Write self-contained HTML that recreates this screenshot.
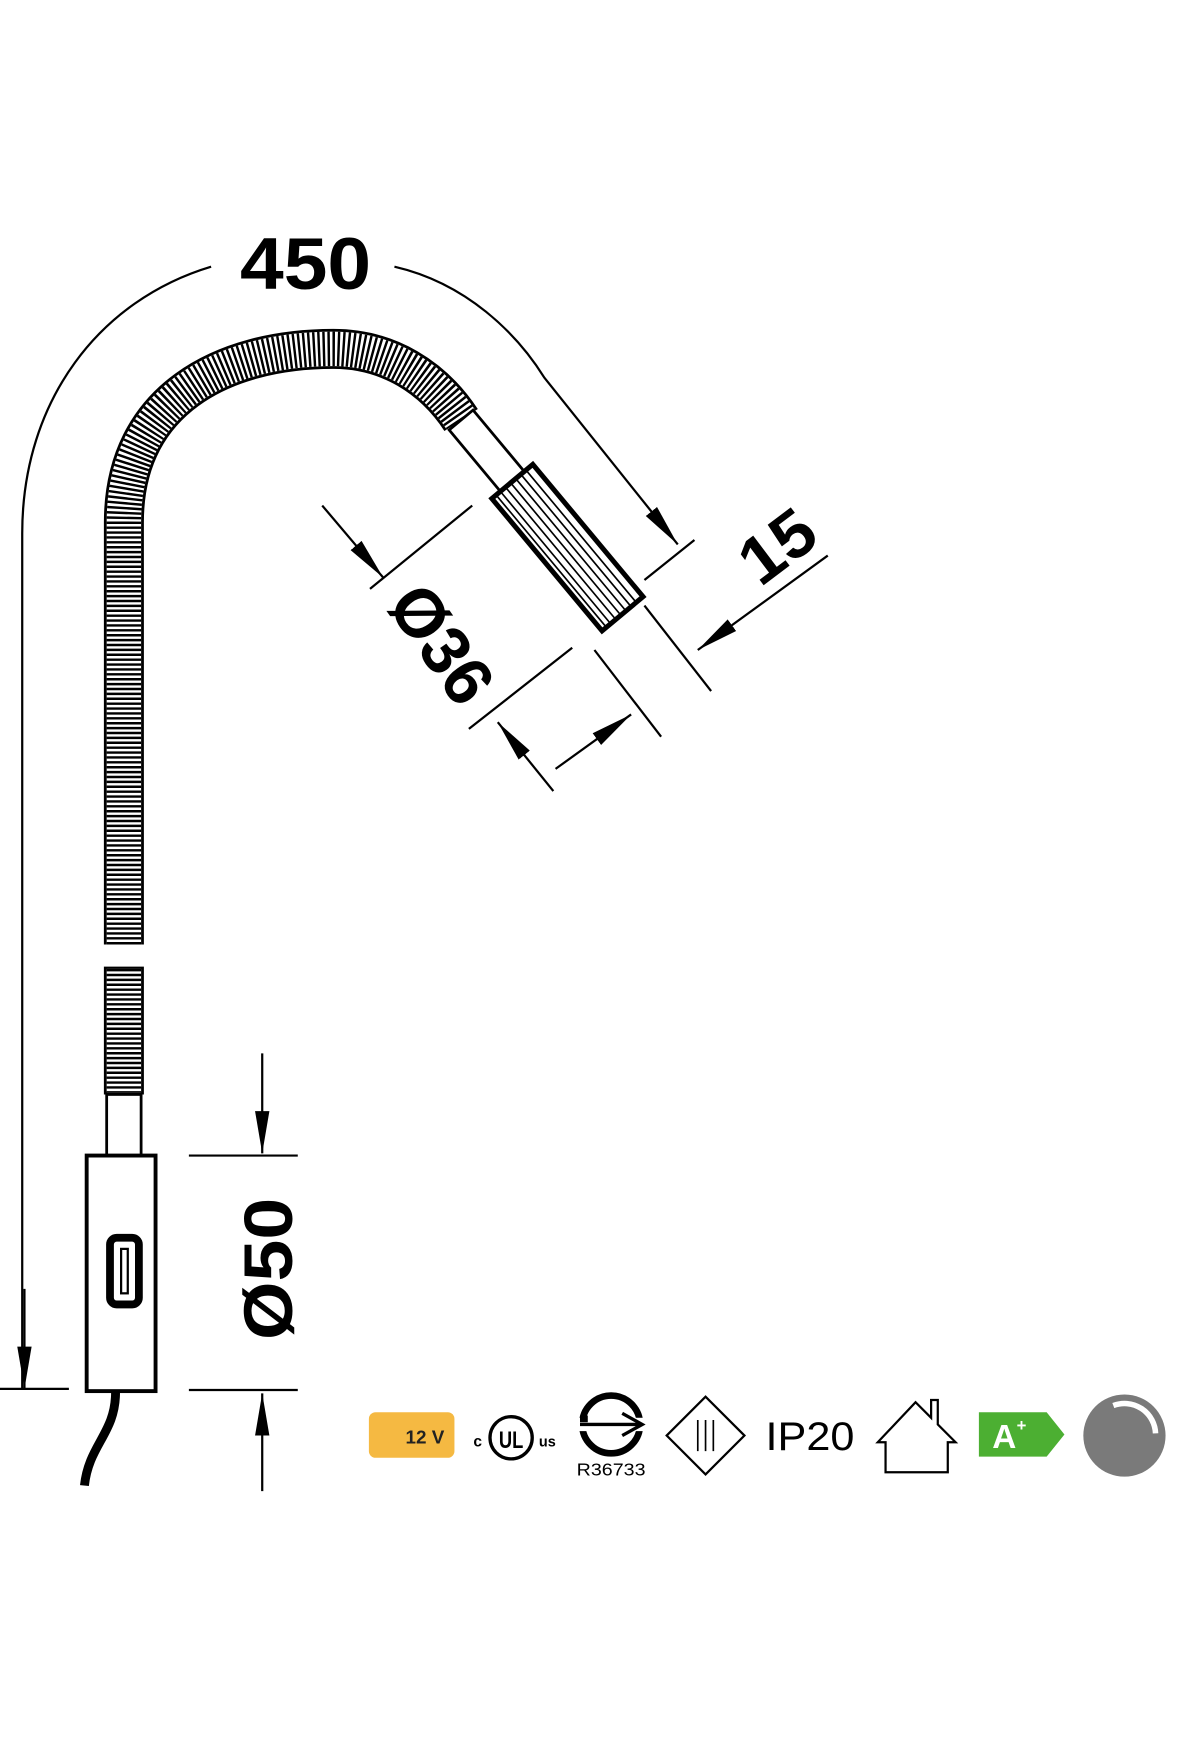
<!DOCTYPE html>
<html><head><meta charset="utf-8"><style>html,body{margin:0;padding:0;background:#fff}svg{display:block}</style></head>
<body>
<svg width="1200" height="1760" viewBox="0 0 1080 1584" xmlns="http://www.w3.org/2000/svg" font-family="Liberation Sans, sans-serif">
<defs>
<marker id="ab" viewBox="0 0 10 10" refX="10" refY="5" markerWidth="38" markerHeight="38" markerUnits="userSpaceOnUse" orient="auto">
<path d="M0,3.3 L10,5 L0,6.7 Z" fill="#000"/></marker>
</defs>
<g fill="none" stroke="#000">
<path d="M20,1250 L20,480 C20,360 90,270 190,240" stroke-width="2"/>
<path d="M355,240 C420,255 465,300 490,340 L610,490" stroke-width="2" marker-end="url(#ab)"/>
<path d="M22,1160 L22,1250" stroke-width="2" marker-end="url(#ab)"/>
<line x1="0" y1="1250" x2="62" y2="1250" stroke-width="2"/>
<line x1="580" y1="522" x2="625" y2="486" stroke-width="2"/>

<path d="M111.5,850 L111.5,470 C111.5,360 200,314 300,314 C350,314 390,340 415,378" stroke-width="36"/>
<path d="M111.5,850 L111.5,470 C111.5,360 200,314 300,314 C350,314 390,340 415,378" stroke="#fff" stroke-width="31"/>
<path d="M111.5,850 L111.5,470 C111.5,360 200,314 300,314 C350,314 390,340 415,378" stroke-width="31" stroke-dasharray="2.2 2.2"/>
<path d="M111.5,870 L111.5,985" stroke-width="36"/>
<path d="M111.5,872 L111.5,983" stroke="#fff" stroke-width="31"/>
<path d="M111.5,872 L111.5,983" stroke-width="31" stroke-dasharray="2.2 2.2"/>
<rect x="96" y="985" width="31" height="55" fill="#fff" stroke-width="2.5"/>
<rect x="78" y="1040" width="62" height="212" fill="#fff" stroke-width="3.5"/>
<rect x="99" y="1114" width="26" height="60" rx="6" stroke-width="7"/>
<rect x="109" y="1124" width="6" height="40" stroke-width="2"/>
<path d="M104,1253 C104,1290 80,1300 76,1337" stroke-width="8"/>

<g transform="translate(415,378) rotate(50.2)">
<rect x="0" y="-14" width="75" height="28" fill="#fff" stroke-width="2.5"/>
<rect x="72" y="-24" width="155" height="48" fill="#fff" stroke-width="4.5"/>
<g stroke-width="1.5">
<line x1="74" y1="-16" x2="225" y2="-16"/><line x1="74" y1="-10" x2="225" y2="-10"/>
<line x1="74" y1="-4" x2="225" y2="-4"/><line x1="74" y1="2" x2="225" y2="2"/>
<line x1="74" y1="8" x2="225" y2="8"/><line x1="74" y1="14" x2="225" y2="14"/>
<line x1="74" y1="19" x2="225" y2="19"/>
</g>
</g>

<line x1="333" y1="530" x2="425" y2="455" stroke-width="2"/>
<line x1="422" y1="656" x2="515" y2="583" stroke-width="2"/>
<line x1="535" y1="585" x2="595" y2="663" stroke-width="2"/>
<line x1="580" y1="545" x2="640" y2="622" stroke-width="2"/>
<path d="M290,455 L345,520" stroke-width="2" marker-end="url(#ab)"/>
<path d="M498,712 L448,650" stroke-width="2" marker-end="url(#ab)"/>
<path d="M500,692 L568,643" stroke-width="2" marker-end="url(#ab)"/>
<path d="M745,500 L628,585" stroke-width="2" marker-end="url(#ab)"/>

<path d="M236,948 L236,1038" stroke-width="2" marker-end="url(#ab)"/>
<path d="M236,1342 L236,1254" stroke-width="2" marker-end="url(#ab)"/>
<line x1="170" y1="1040" x2="268" y2="1040" stroke-width="2"/>
<line x1="170" y1="1251" x2="268" y2="1251" stroke-width="2"/>
</g>

<text x="275" y="260" font-size="66" font-weight="bold" text-anchor="middle" textLength="118" lengthAdjust="spacingAndGlyphs">450</text>
<text transform="translate(380,592) rotate(55)" font-size="62" font-weight="bold" text-anchor="middle" textLength="115" lengthAdjust="spacingAndGlyphs">Ø36</text>
<text transform="translate(712,508) rotate(-37)" font-size="60" font-weight="bold" text-anchor="middle" textLength="70" lengthAdjust="spacingAndGlyphs">15</text>
<text transform="translate(263,1142) rotate(-90)" font-size="62" font-weight="bold" text-anchor="middle" textLength="128" lengthAdjust="spacingAndGlyphs">Ø50</text>

<rect x="332" y="1271" width="77" height="41" rx="6" fill="#f5b942"/>
<text x="365" y="1299" font-size="17" font-weight="bold" fill="#222">12 V</text>
<text x="426" y="1302" font-size="14" font-weight="bold">c</text>
<circle cx="460" cy="1294" r="19" fill="none" stroke="#000" stroke-width="3"/>
<text x="460" y="1303" font-size="22" font-weight="bold" text-anchor="middle" textLength="22" lengthAdjust="spacingAndGlyphs">UL</text>
<text x="485" y="1302" font-size="13" font-weight="bold">us</text>
<circle cx="550" cy="1282" r="26" fill="none" stroke="#000" stroke-width="6"/>
<rect x="520" y="1276" width="60" height="12" fill="#fff"/>
<path d="M522,1282 L578,1282 M560,1272 L578,1282 L560,1292" fill="none" stroke="#000" stroke-width="3"/>
<rect x="522" y="1274" width="7" height="6" fill="#000"/>
<text x="550" y="1328" font-size="16" text-anchor="middle" textLength="62" lengthAdjust="spacingAndGlyphs">R36733</text>
<path d="M635,1257 L670,1292 L635,1327 L600,1292 Z" fill="none" stroke="#000" stroke-width="2"/>
<path d="M628,1278 V1306 M635,1278 V1306 M642,1278 V1306" stroke="#000" stroke-width="1.5"/>
<text x="689" y="1305" font-size="36" textLength="80" lengthAdjust="spacingAndGlyphs">IP20</text>
<path d="M790,1298 L824,1262 L838,1276 L838,1260 L844,1260 L844,1282 L860,1298 L853,1298 L853,1325 L797,1325 L797,1298 Z" fill="none" stroke="#000" stroke-width="2"/>
<path d="M881,1271 L942,1271 L958,1291 L942,1311 L881,1311 Z" fill="#4caf32"/>
<text x="893" y="1303" font-size="30" font-weight="bold" fill="#fff">A</text>
<text x="915" y="1288" font-size="15" font-weight="bold" fill="#fff">+</text>
<circle cx="1012" cy="1292" r="37" fill="#7a7a7a"/>
<path d="M1002,1265 A28,28 0 0 1 1040,1290" fill="none" stroke="#fff" stroke-width="5"/>
</svg>
</body></html>
